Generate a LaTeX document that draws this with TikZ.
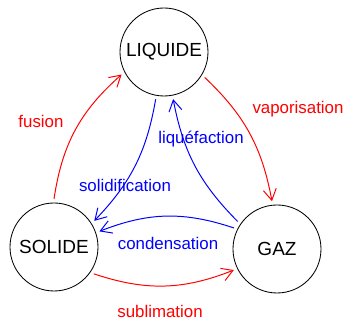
\documentclass[tikz,border=0pt]{standalone}
\usepackage{fontspec}
\setmainfont{Liberation Sans}
\usepackage{tikz}
\usetikzlibrary{positioning, arrows.meta}
\definecolor{hotred}{RGB}{255, 0, 0}
\definecolor{coldblue}{RGB}{0, 0, 255}

\begin{document}
\begin{tikzpicture}[
          statenode/.style={draw=black, line width=1.2pt, shape=circle, minimum size=4.4cm, inner sep=0pt, outer sep=0.2cm, font=\fontsize{27}{32}\selectfont},
          translabel/.style={font=\fontsize{24}{29}\selectfont, inner sep=1pt},
          hotarrow/.style={-{Straight Barb[length=0.55cm, width=0.65cm]}, line width=1.4pt, hotred},
          coldarrow/.style={-{Straight Barb[length=0.55cm, width=0.65cm]}, line width=1.4pt, coldblue}
        ]
          \useasboundingbox (0, 0) rectangle (17.45, 16);
          \node[statenode] (L) at (8.2, 13.4) {LIQUIDE};
          \node[statenode] (S) at (2.7, 3.65) {SOLIDE};
          \node[statenode] (G) at (13.85, 3.55) {GAZ};

          \node[translabel, text=hotred] (fus) at (2.05, 9.95) {fusion};
          \node[translabel, text=hotred] (vap) at (14.9, 10.55) {vaporisation};
          \node[translabel, text=coldblue] (liq) at (10.05, 9.05) {liquéfaction};
          \node[translabel, text=coldblue] (sol) at (6.25, 6.75) {solidification};
          \node[translabel, text=coldblue] (con) at (8.4, 3.85) {condensation};
          \node[translabel, text=hotred] (sub) at (8.0, 0.45) {sublimation};

          \draw[hotarrow] (S.90) to[bend left=20] (L.208);
          \draw[hotarrow] (L.328) to[bend left=18] (G.96);
          \draw[coldarrow] (L.260) to[bend left=17] (S.33);
          \draw[coldarrow] (G.145) to[bend left=17] (L.281);
          \draw[coldarrow] (G.154) to[bend right=20] (S.19);
          \draw[hotarrow] (S.326) to[bend right=20] (G.206);
        \end{tikzpicture}
\end{document}
